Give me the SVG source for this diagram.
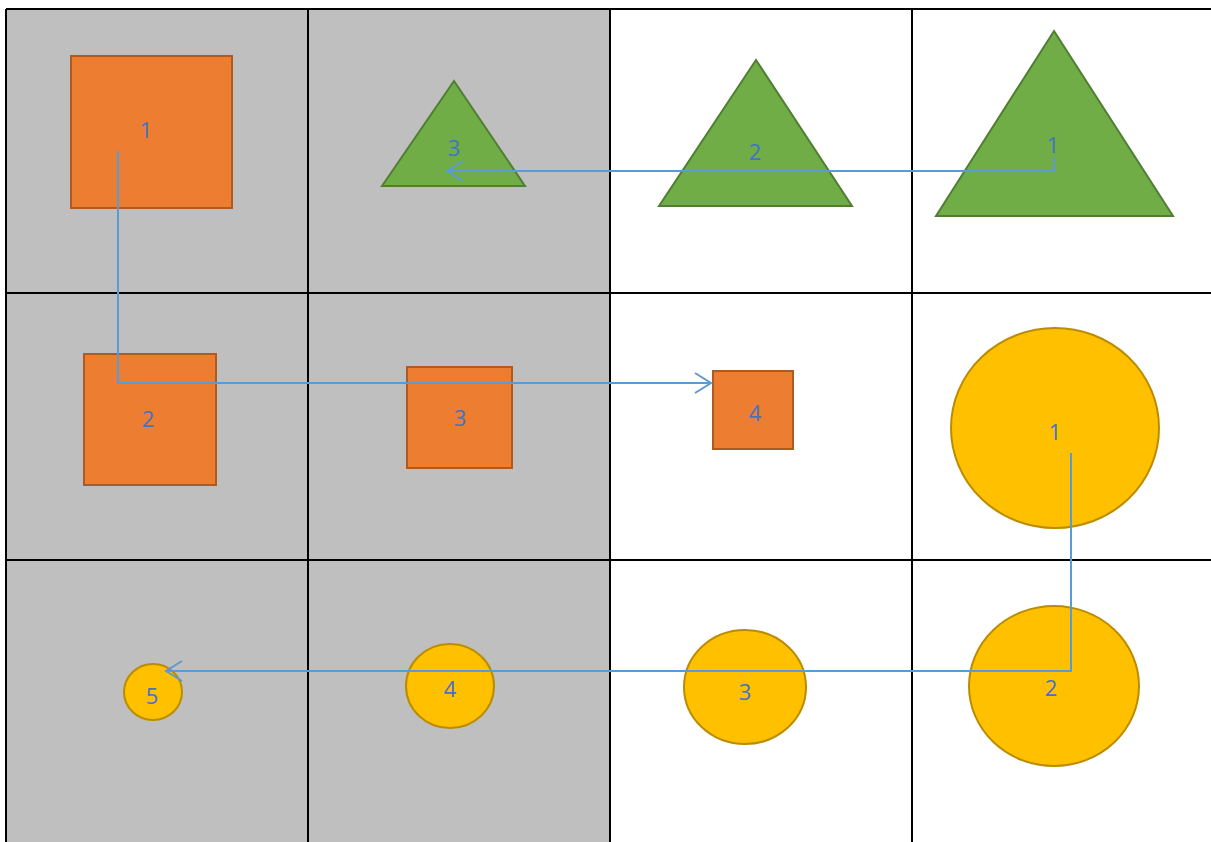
<svg xmlns="http://www.w3.org/2000/svg" width="1211" height="842" viewBox="0 0 1211 842">
<style>
.grid{stroke:#000;stroke-width:2;fill:none}
.sq{fill:#ED7D31;stroke:#AE5A21;stroke-width:2}
.tri{fill:#70AD47;stroke:#507E32;stroke-width:2}
.cir{fill:#FFC000;stroke:#BC8C00;stroke-width:2}
.lbl{font-family:"Open Sans","Liberation Sans",sans-serif;font-size:22px;fill:#4472C4;text-anchor:middle}
.con{stroke:#5B9BD5;stroke-width:2;fill:none;marker-end:url(#arr)}
</style>
<defs>
<marker id="arr" markerWidth="20" markerHeight="24" refX="17" refY="11" orient="auto" markerUnits="userSpaceOnUse">
<polyline points="1,1 17,11 1,21" fill="none" stroke="#5B9BD5" stroke-width="2"/>
</marker>
</defs>
<rect x="0" y="0" width="1211" height="842" fill="#fff"/>
<rect x="6" y="9" width="604" height="833" fill="#BFBFBF"/>
<g id="grid" class="grid">
<line x1="6" y1="9" x2="1211" y2="9"/>
<line x1="6" y1="293" x2="1211" y2="293"/>
<line x1="6" y1="560" x2="1211" y2="560"/>
<line x1="6" y1="9" x2="6" y2="842"/>
<line x1="308" y1="9" x2="308" y2="842"/>
<line x1="610" y1="9" x2="610" y2="842"/>
<line x1="912" y1="9" x2="912" y2="842"/>
</g>
<g id="sq1"><rect class="sq" x="71" y="56" width="161" height="152"/><text class="lbl" x="146" y="138">1</text></g>
<g id="tri3"><polygon class="tri" points="454,81 525,186 382,186"/><text class="lbl" x="454" y="156">3</text></g>
<g id="tri2"><polygon class="tri" points="756,60 852,206 659,206"/><text class="lbl" x="755" y="160">2</text></g>
<g id="tri1"><polygon class="tri" points="1054,31 1173,216 936,216"/><text class="lbl" x="1053" y="153">1</text></g>
<g id="sq2"><rect class="sq" x="84" y="354" width="132" height="131"/><text class="lbl" x="148" y="427">2</text></g>
<g id="sq3"><rect class="sq" x="407" y="367" width="105" height="101"/><text class="lbl" x="460" y="426">3</text></g>
<g id="sq4"><rect class="sq" x="713" y="371" width="80" height="78"/><text class="lbl" x="755" y="421">4</text></g>
<g id="cir1"><ellipse class="cir" cx="1055" cy="428" rx="104" ry="100"/><text class="lbl" x="1055" y="440">1</text></g>
<g id="cir2"><ellipse class="cir" cx="1054" cy="686" rx="85" ry="80"/><text class="lbl" x="1051" y="696">2</text></g>
<g id="cir3"><ellipse class="cir" cx="745" cy="687" rx="61" ry="57"/><text class="lbl" x="745" y="700">3</text></g>
<g id="cir4"><ellipse class="cir" cx="450" cy="686" rx="44" ry="42"/><text class="lbl" x="450" y="697">4</text></g>
<g id="cir5"><ellipse class="cir" cx="153" cy="692" rx="29" ry="28"/><text class="lbl" x="152" y="704">5</text></g>
<g id="connectors">
<path class="con" d="M118,151 V383 H711"/>
<path class="con" d="M1054,157 V171 H447"/>
<path class="con" d="M1071,453 V671 H166"/>
</g>
</svg>
